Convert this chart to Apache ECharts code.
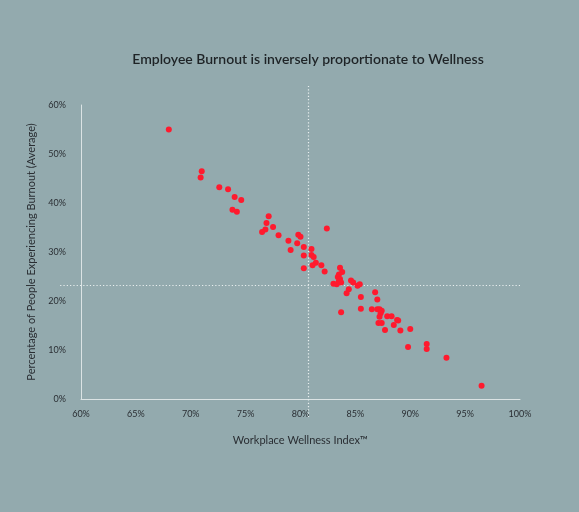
<!DOCTYPE html>
<html>
<head>
<meta charset="utf-8">
<script src="https://cdn.jsdelivr.net/npm/echarts@6/dist/echarts.min.js"></script>
<style>
html,body{margin:0;padding:0;background:#93aaae;}
#chart{width:579px;height:512px;}
</style>
</head>
<body>
<div id="chart"></div>
<script>
// Workplace Wellness Index (%)
var wellness = [68.0,71.0,70.9,72.6,73.4,74.0,74.6,73.8,74.2,77.1,76.9,77.5,76.8,76.5,78.0,
  82.4,79.8,80.0,78.9,79.7,79.1,80.3,81.0,80.3,81.0,81.2,81.4,81.1,81.9,82.2,80.3,
  83.6,83.8,83.5,83.4,83.6,83.5,83.7,83.0,83.3,84.6,84.8,85.2,85.4,84.4,84.2,
  86.8,85.5,87.0,85.5,83.7,86.5,87.0,87.2,87.4,87.3,87.2,87.9,88.3,88.8,88.9,88.5,87.1,87.4,87.7,89.1,90.0,89.8,91.5,91.5,93.3,96.5];
// Percentage of people experiencing burnout (%)
var burnout = [55.0,46.5,45.2,43.2,42.8,41.2,40.6,38.6,38.2,37.3,35.9,35.1,34.6,34.1,33.4,
  34.8,33.5,33.1,32.3,31.8,30.4,31.0,30.6,29.3,29.4,29.0,27.8,27.3,27.3,26.0,26.7,
  26.8,25.9,25.4,24.9,24.5,24.1,23.8,23.5,23.4,24.2,23.8,23.1,23.4,22.4,21.6,
  21.8,20.8,20.3,18.4,17.7,18.3,18.3,18.3,18.0,17.5,16.8,16.9,16.9,16.1,16.0,15.1,15.5,15.5,14.1,14.0,14.3,10.6,11.2,10.2,8.4,2.7];
var xTicks = [60, 100, 5];   // min, max, interval
var yTicks = [0, 60, 10];
// reference (crosshair) lines: x value, y value
var refX = 80.7, refY = 23.3;
// extents of the reference lines in data units
var refXSpan = [63.9, -3.9];
var refYSpan = [58.1, 100];

var chart = echarts.init(document.getElementById('chart'));
var pts = wellness.map(function(v,i){return [v, burnout[i]];});
var font = 'Lato, "Open Sans", sans-serif';
chart.setOption({
  backgroundColor: '#93aaae',
  animation: false,
  title: {
    text: 'Employee Burnout is inversely proportionate to Wellness',
    left: 303, top: 47, textAlign: 'center',
    textStyle: {fontFamily: font, fontSize: 14, fontWeight: 600, color: '#1e2326'}
  },
  grid: {left: 81, right: 59, top: 105, bottom: 113},
  xAxis: {
    type: 'value', min: xTicks[0], max: xTicks[1], interval: xTicks[2],
    name: 'Workplace Wellness Index™', nameLocation: 'middle', nameGap: 36,
    nameTextStyle: {fontFamily: font, fontSize: 11, color: '#2a2e33'},
    axisLine: {show: true, lineStyle: {color: '#dbe3e4', width: 1}},
    axisTick: {show: false}, splitLine: {show: false},
    axisLabel: {formatter: '{value}%', margin: 11, fontFamily: font, fontSize: 9, color: '#2a2e33'}
  },
  yAxis: {
    type: 'value', min: yTicks[0], max: yTicks[1], interval: yTicks[2],
    name: 'Percentage of People Experiencing Burnout (Average)', nameLocation: 'middle', nameGap: 43,
    nameTextStyle: {fontFamily: font, fontSize: 11, color: '#2a2e33'},
    axisLine: {show: true, lineStyle: {color: '#dbe3e4', width: 1}},
    axisTick: {show: false}, splitLine: {show: false},
    axisLabel: {formatter: '{value}%', margin: 15, fontFamily: font, fontSize: 9, color: '#2a2e33'}
  },
  series: [{
    type: 'scatter', data: pts, symbolSize: 6,
    itemStyle: {color: '#ff1a2e', opacity: 1}
  }]
});

function drawRefs(){
  var a = chart.convertToPixel({gridIndex: 0}, [refX, refXSpan[0]]);
  var b = chart.convertToPixel({gridIndex: 0}, [refX, refXSpan[1]]);
  var c = chart.convertToPixel({gridIndex: 0}, [refYSpan[0], refY]);
  var d = chart.convertToPixel({gridIndex: 0}, [refYSpan[1], refY]);
  var style = {stroke: '#e9efef', lineWidth: 1.2, lineDash: [1.2, 2.1]};
  chart.setOption({graphic: [
    {type: 'line', z: 1, shape: {x1: Math.round(a[0])+0.5, y1: a[1], x2: Math.round(b[0])+0.5, y2: b[1]}, style: style},
    {type: 'line', z: 1, shape: {x1: c[0], y1: Math.round(c[1])+0.5, x2: d[0], y2: Math.round(d[1])+0.5}, style: style}
  ]});
}
drawRefs();
</script>
</body>
</html>
